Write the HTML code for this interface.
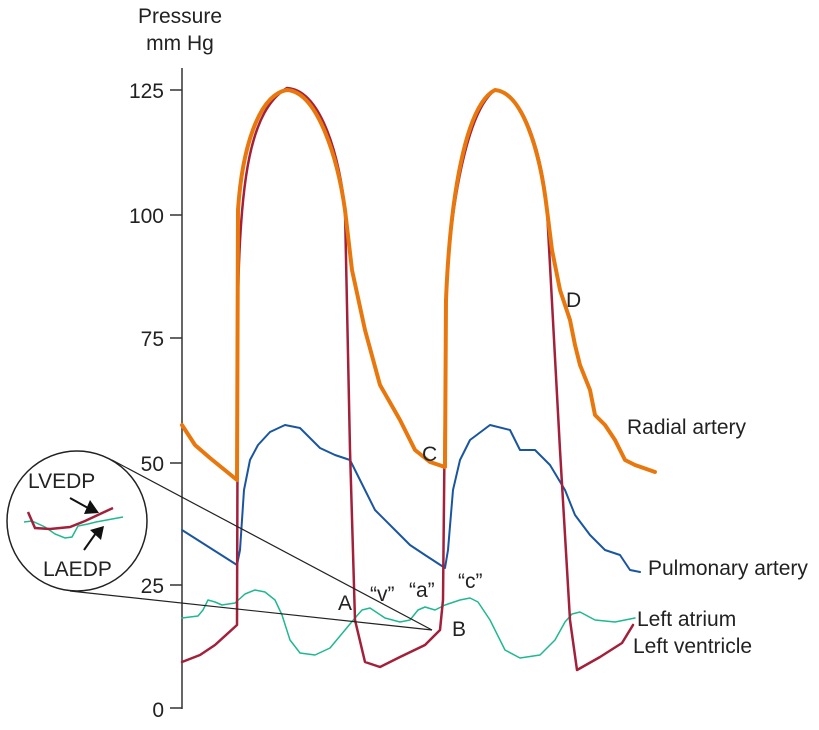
<!DOCTYPE html>
<html><head><style>
body{margin:0;background:#fff;}
svg text{font-family:"Liberation Sans",Arial,sans-serif;fill:#222;}
</style></head><body>
<svg width="819" height="725" viewBox="0 0 819 725" xmlns="http://www.w3.org/2000/svg">
<g font-size="21">
<text x="180" y="23" text-anchor="middle">Pressure</text>
<text x="180" y="50" text-anchor="middle">mm Hg</text>
<text x="164" y="98" text-anchor="end">125</text>
<text x="164" y="223" text-anchor="end">100</text>
<text x="164" y="346" text-anchor="end">75</text>
<text x="164" y="471" text-anchor="end">50</text>
<text x="164" y="593" text-anchor="end">25</text>
<text x="164" y="717" text-anchor="end">0</text>
</g>
<g stroke="#333" stroke-width="1.5" fill="none">
<line x1="182" y1="68" x2="182" y2="709"/>
<line x1="170" y1="90" x2="182" y2="90"/>
<line x1="170" y1="215" x2="182" y2="215"/>
<line x1="170" y1="338" x2="182" y2="338"/>
<line x1="170" y1="463" x2="182" y2="463"/>
<line x1="170" y1="585" x2="182" y2="585"/>
<line x1="170" y1="708" x2="182" y2="708"/>
</g>
<g stroke-linejoin="round" stroke-linecap="round">
<polyline fill="none" stroke="#1fb890" stroke-width="1.5" points="182,618 198,616 203,610 208,600 215,602 222,605 235,603 245,594 255,590 265,592 275,600 282,615 290,640 300,653 315,655 330,648 345,630 355,618 362,610 370,608 385,618 400,622 410,620 418,610 425,607 435,610 445,605 460,600 470,598 478,602 490,620 505,650 520,658 540,655 555,640 565,622 572,614 580,612 595,620 615,622 635,618"/>
<polyline fill="none" stroke="#1a56a0" stroke-width="2" points="182,530 237,565 240,550 244,490 250,460 258,445 270,432 285,425 300,428 312,440 320,448 335,455 350,460 360,480 375,510 395,530 410,545 425,555 445,568 448,550 453,490 460,460 470,440 490,425 510,430 520,450 535,450 550,465 565,490 575,515 590,535 605,550 620,555 630,570 640,572"/>
<path fill="none" stroke="#a3203a" stroke-width="2.5" d="M182,662 L200,655 215,645 237,625 L238,300 C240,180 250,110 287,88 C322,90 340,160 345,210 L350,450 355,620 365,662 380,667 400,657 425,645 440,630 443,600 L446,300 C450,200 468,110 495,90 C525,92 543,160 547,210 L560,450 570,620 577,670 600,657 622,643 633,625"/>
<path fill="none" stroke="#e8780e" stroke-width="4" d="M182,425 L195,445 210,458 237,480 L238,210 C242,150 258,95 287,90 C318,92 338,160 345,210 L352,270 365,330 380,385 400,420 415,450 430,462 445,467 L446,300 C450,200 465,105 495,90 C522,92 540,150 547,210 L552,250 560,290 570,320 575,345 580,365 590,390 595,415 605,425 615,440 625,460 635,465 655,472"/>
</g>
<circle cx="77" cy="521" r="70" fill="none" stroke="#222" stroke-width="1.5"/>
<line x1="112" y1="460" x2="432" y2="630" stroke="#222" stroke-width="1.2"/>
<line x1="70" y1="591" x2="432" y2="630" stroke="#222" stroke-width="1.2"/>
<polyline fill="none" stroke="#1fb890" stroke-width="1.5" points="24,522 32,521 45,527 55,534 65,538 72,537 78,526 88,524 96,522 123,517"/>
<path fill="none" stroke="#a3203a" stroke-width="2.5" d="M28,512 L35,528 50,529 70,527 85,521 100,514 113,508"/>
<line x1="70" y1="498" x2="88" y2="508" stroke="#111" stroke-width="2"/>
<polygon points="99,513 84,514 90,500" fill="#111"/>
<line x1="84" y1="550" x2="96" y2="533" stroke="#111" stroke-width="2"/>
<polygon points="104,526 90,530 101,540" fill="#111"/>
<g font-size="21">
<text x="28" y="488">LVEDP</text>
<text x="43" y="576">LAEDP</text>
<text x="338" y="610">A</text>
<text x="370" y="601">“v”</text>
<text x="409" y="597">“a”</text>
<text x="458" y="588">“c”</text>
<text x="452" y="636">B</text>
<text x="422" y="461">C</text>
<text x="566" y="307">D</text>
<text x="627" y="434">Radial artery</text>
<text x="648" y="575">Pulmonary artery</text>
<text x="637" y="626">Left atrium</text>
<text x="633" y="653">Left ventricle</text>
</g>
</svg>
</body></html>
